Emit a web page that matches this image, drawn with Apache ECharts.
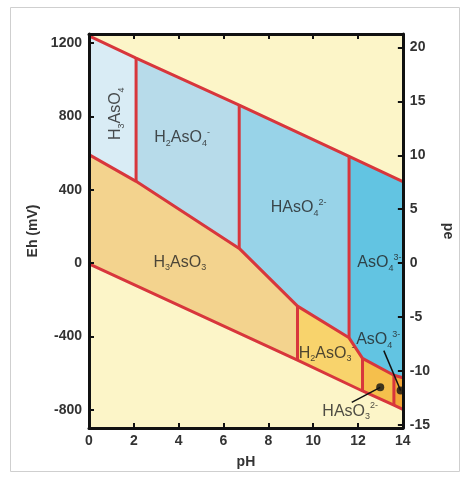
<!DOCTYPE html>
<html><head><meta charset="utf-8">
<script src="https://cdn.jsdelivr.net/npm/echarts@6/dist/echarts.min.js"></script>
<style>html,body{margin:0;padding:0;background:#fff}#c{width:463px;height:477px}</style>
</head><body><div id="c"></div>
<script>
// ---- data (pH, Eh in mV) ----
const pHTicks = [0, 2, 4, 6, 8, 10, 12, 14];
const EhTicks = [-800, -400, 0, 400, 800, 1200];
const peTicks = [-15, -10, -5, 0, 5, 10, 15, 20];
const mVperPe = 58.8;
const EhMin = -900, EhMax = 1250;

const upperWater = [[0, 1240], [2.1, 1118], [6.7, 862], [11.6, 582], [14, 445]];
const lowerWater = [[0, -5], [9.3, -530], [12.2, -698], [13.6, -775], [14, -798]];
const redoxLine = [[0, 592], [2.1, 446], [6.7, 80], [9.3, -235], [11.6, -408], [12.2, -520], [13.6, -612], [14, -626]];
const verticalLines = [
  [[2.1, 1118], [2.1, 446]],
  [[6.7, 862], [6.7, 80]],
  [[11.6, 582], [11.6, -408]],
  [[9.3, -235], [9.3, -530]],
  [[12.2, -520], [12.2, -698]],
  [[13.6, -612], [13.6, -775]]
];

const regionNames = ['H3AsO4', 'H2AsO4-', 'HAsO4 2-', 'AsO4 3-', 'H3AsO3', 'H2AsO3-', 'HAsO3 2-', 'AsO3 3-'];
const regionPolys = [
  [[0, 1240], [2.1, 1118], [2.1, 446], [0, 592]],
  [[2.1, 1118], [6.7, 862], [6.7, 80], [2.1, 446]],
  [[6.7, 862], [11.6, 582], [11.6, -408], [9.3, -235], [6.7, 80]],
  [[11.6, 582], [14, 445], [14, -626], [13.6, -612], [12.2, -520], [11.6, -408]],
  [[0, 592], [2.1, 446], [6.7, 80], [9.3, -235], [9.3, -530], [0, -5]],
  [[9.3, -235], [11.6, -408], [12.2, -520], [12.2, -698], [9.3, -530]],
  [[12.2, -520], [13.6, -612], [13.6, -775], [12.2, -698]],
  [[13.6, -612], [14, -626], [14, -798], [13.6, -775]]
];
const regionColors = ['#d9ecf5', '#b7dbea', '#98d3e8', '#62c4e2', '#f3d38e', '#f8d36c', '#f5bf4c', '#f2a838'];

// labels: [pH, Eh, rich text, rotate]
const labelPos = [
  [1.19, 815, '{m|H}{sub|3}{m|AsO}{sub|4}', 90],
  [4.15, 685, '{m|H}{sub|2}{m|AsO}{sub|4}{sup|-}', 0],
  [9.35, 300, '{m|HAsO}{sub|4}{sup|2-}', 0],
  [12.95, 0, '{m|AsO}{sub|4}{sup|3-}', 0],
  [4.05, 5, '{m|H}{sub|3}{m|AsO}{sub|3}', 0],
  [10.6, -492, '{m|H}{sub|2}{m|AsO}{sub|3}{sup|-}', 0],
  [12.9, -420, '{m|AsO}{sub|4}{sup|3-}', 0],
  [11.65, -810, '{m|HAsO}{sub|3}{sup|2-}', 0]
];
const calloutLines = [
  [[13.15, -478], [13.9, -695]],
  [[11.72, -760], [12.99, -678]]
];
const calloutDots = [[13.9, -695], [12.99, -678]];

const RED = '#d8363c';
const FONT = 'Liberation Sans';

const chart = echarts.init(document.getElementById('c'), null, { renderer: 'canvas' });

const axisLineStyle = { show: true, onZero: false, lineStyle: { color: '#111', width: 3 } };
const tickStyle = { lineStyle: { color: '#111', width: 2 } };
const labelStyle = { color: '#333', fontSize: 14, fontWeight: 'bold', fontFamily: FONT, formatter: v => String(v) };
const nameStyle = { color: '#333', fontSize: 14, fontWeight: 'bold', fontFamily: FONT };

const series = [];
series.push({
  type: 'custom',
  xAxisIndex: 0, yAxisIndex: 0,
  silent: true,
  renderItem: function (params, api) {
    const poly = regionPolys[params.dataIndex];
    return {
      type: 'polygon',
      shape: { points: poly.map(p => api.coord(p)) },
      style: { fill: regionColors[params.dataIndex] }
    };
  },
  data: regionPolys.map(p => p[0]),
  z: 1
});
const redLines = [upperWater, lowerWater, redoxLine].concat(verticalLines);
redLines.forEach(d => series.push({
  type: 'line', data: d, symbol: 'none', silent: true,
  lineStyle: { color: RED, width: 3 }, z: 3, animation: false
}));
calloutLines.forEach(d => series.push({
  type: 'line', data: d, symbol: 'none', silent: true,
  lineStyle: { color: '#111', width: 1.5 }, z: 4, animation: false
}));
series.push({
  type: 'scatter', data: calloutDots, symbol: 'circle', symbolSize: 8,
  itemStyle: { color: '#111' }, z: 5, silent: true
});
const rich = {
  m: { fontSize: 16, fontFamily: FONT, color: '#222', lineHeight: 20, verticalAlign: 'middle' },
  sub: { fontSize: 9, fontFamily: FONT, color: '#222', lineHeight: 10, verticalAlign: 'bottom' },
  sup: { fontSize: 9, fontFamily: FONT, color: '#222', lineHeight: 10, verticalAlign: 'top' }
};
series.push({
  type: 'scatter', symbolSize: 0, silent: true, z: 6,
  data: labelPos.map(l => ({
    value: [l[0], l[1]],
    label: { show: true, position: 'inside', formatter: l[2], rotate: l[3], rich: rich }
  }))
});

chart.setOption({
  animation: false,
  backgroundColor: '#fff',
  graphic: [{
    type: 'rect', shape: { x: 10.5, y: 7.5, width: 449, height: 464 },
    style: { fill: 'none', stroke: '#cfcfcf', lineWidth: 1 }, z: -1
  }],
  grid: { left: 89, right: 58, top: 34, bottom: 49, show: true, backgroundColor: '#fcf5c8', borderWidth: 0 },
  xAxis: [{
    type: 'value', min: 0, max: 14, interval: 2, position: 'bottom', z: 10,
    axisLine: axisLineStyle, axisTick: Object.assign({ inside: true, length: 5 }, tickStyle),
    axisLabel: Object.assign({ margin: 6, customValues: pHTicks }, labelStyle),
    splitLine: { show: false },
    name: 'pH', nameLocation: 'middle', nameGap: 27, nameTextStyle: nameStyle
  }, {
    type: 'value', min: 0, max: 14, interval: 2, position: 'top', z: 10,
    axisLine: axisLineStyle, axisTick: Object.assign({ inside: true, length: 5 }, tickStyle),
    axisLabel: { show: false }, splitLine: { show: false }
  }],
  yAxis: [{
    type: 'value', min: EhMin, max: EhMax, position: 'left', z: 10,
    axisLine: axisLineStyle,
    axisTick: Object.assign({ inside: true, length: 5, customValues: EhTicks }, tickStyle),
    axisLabel: Object.assign({ margin: 7, customValues: EhTicks }, labelStyle),
    splitLine: { show: false },
    name: 'Eh (mV)', nameLocation: 'middle', nameGap: 38, nameRotate: 90, nameTextStyle: nameStyle
  }, {
    type: 'value', min: EhMin / mVperPe, max: EhMax / mVperPe, position: 'right', z: 10,
    axisLine: axisLineStyle,
    axisTick: Object.assign({ inside: true, length: 5, customValues: peTicks }, tickStyle),
    axisLabel: Object.assign({ margin: 7, customValues: peTicks }, labelStyle),
    splitLine: { show: false },
    name: 'pe', nameLocation: 'middle', nameGap: 20, nameRotate: -90, nameTextStyle: nameStyle
  }],
  series: series
});
</script>
</body></html>
